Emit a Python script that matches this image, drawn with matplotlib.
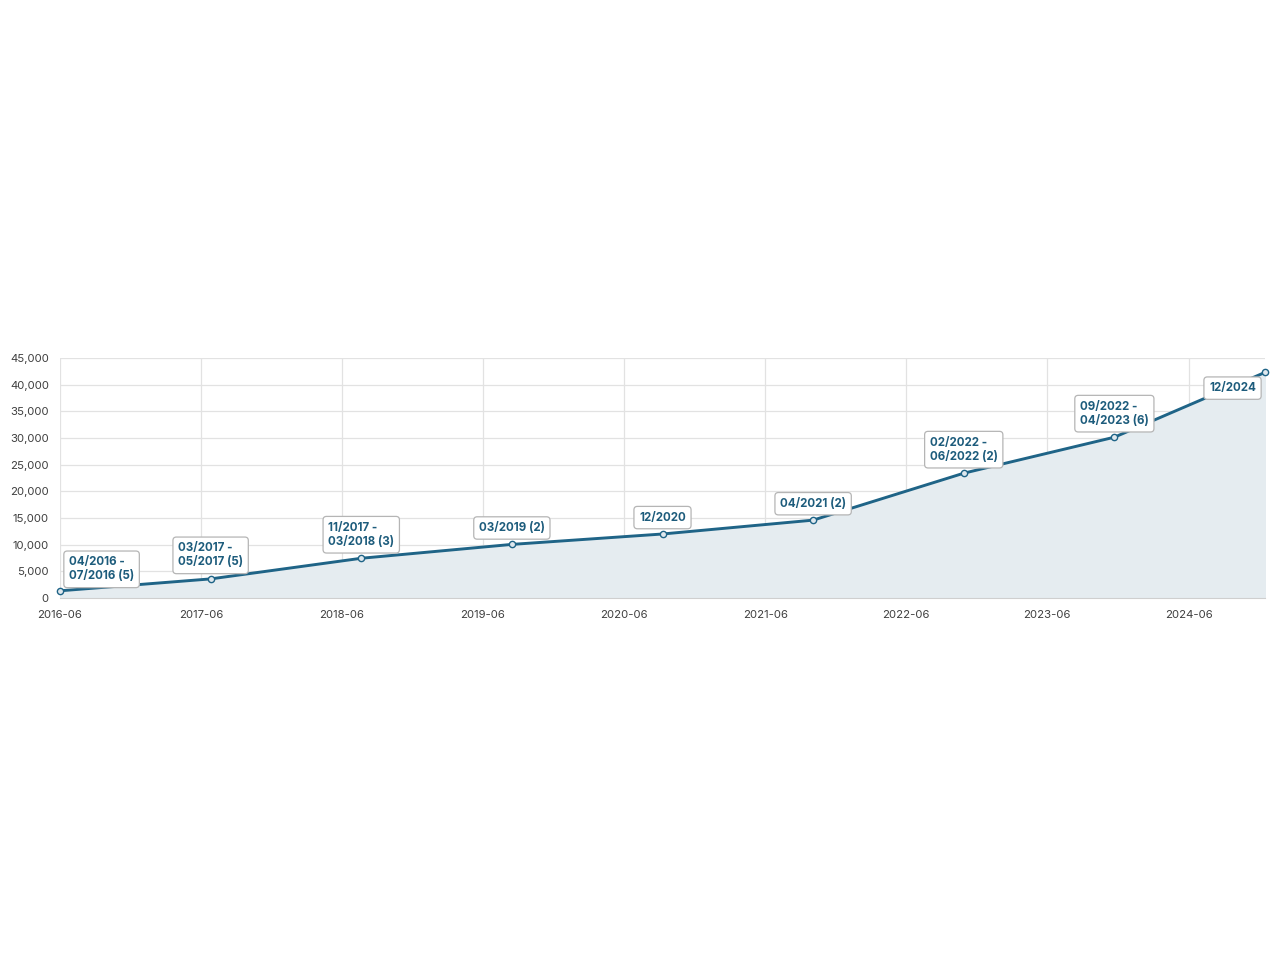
import numpy as np
import pandas as pd
import matplotlib
matplotlib.use("Agg")
import matplotlib.pyplot as plt
import matplotlib.dates as mdates
from matplotlib.ticker import FuncFormatter, MultipleLocator

plt.rcParams['font.family'] = ['Inter', 'DejaVu Sans']

dates = pd.to_datetime(["2016-06-01", "2017-06-26", "2018-07-21", "2019-08-15", "2020-09-08",
                        "2021-10-03", "2022-10-28", "2023-11-22", "2024-12-16"])
values = [1350, 3580, 7450, 10050, 12000, 14600, 23400, 30150, 42300]
labels = ["04/2016 -\n07/2016 (5)", "03/2017 -\n05/2017 (5)", "11/2017 -\n03/2018 (3)",
          "03/2019 (2)", "12/2020", "04/2021 (2)", "02/2022 -\n06/2022 (2)",
          "09/2022 -\n04/2023 (6)", "12/2024"]
tick_dates = pd.date_range("2016-06-01", "2024-06-01", freq="12MS")

line_color = "#1f6487"
label_color = "#1d5c7c"
grid_color = "#e2e2e2"

fig = plt.figure(figsize=(12.8, 9.6), dpi=100)
ax = fig.add_axes([60 / 1280, 1 - 598 / 960, 1205 / 1280, 240 / 960])

ax.fill_between(dates, values, 0, color="#e5ecf0", zorder=1)
ax.plot(dates, values, color=line_color, lw=2.1, zorder=3, solid_capstyle="round")
ax.plot(dates, values, ls="none", marker="o", ms=4.5, mfc="#dfe8ee", mec=line_color, mew=1.0,
        zorder=4, clip_on=False)

ax.set_xlim(dates[0], dates[-1])
ax.set_ylim(0, 45000)
ax.yaxis.set_major_locator(MultipleLocator(5000))
ax.yaxis.set_major_formatter(FuncFormatter(lambda v, p: f"{int(v):,}"))
ax.set_xticks(tick_dates)
ax.xaxis.set_major_formatter(mdates.DateFormatter("%Y-%m"))

ax.grid(True, color=grid_color, lw=0.9, zorder=0)
ax.set_axisbelow(True)
for s in ["top", "right", "left"]:
    ax.spines[s].set_visible(False)
ax.spines["bottom"].set_color("#cfcfcf")
ax.tick_params(axis="both", length=0, labelsize=8.2, colors="#3f3f3f")
ax.tick_params(axis="x", pad=9)
ax.tick_params(axis="y", pad=8)

box = dict(boxstyle="round,pad=0.45,rounding_size=0.3", fc="white", ec="#b5b5b5", lw=0.9)
n = len(dates)
for i, (d, v, lab) in enumerate(zip(dates, values, labels)):
    if i == 0:
        off, ha, va = (6.5, 6), "left", "bottom"
    elif i == n - 1:
        off, ha, va = (-6.5, -7), "right", "top"
    else:
        off, ha, va = (0, 7.5), "center", "bottom"
    ax.annotate(lab, (d, v), xytext=off, textcoords="offset points", ha=ha, va=va,
                fontsize=8.3, fontweight="bold", color=label_color, bbox=box,
                linespacing=1.25, zorder=5, annotation_clip=False, multialignment="left")

fig.savefig("out.png", dpi=100)
